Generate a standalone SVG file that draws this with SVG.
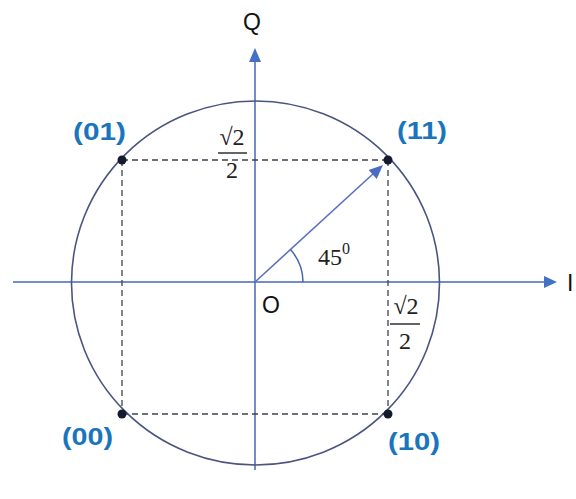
<svg xmlns="http://www.w3.org/2000/svg" width="576" height="499" viewBox="0 0 576 499">
<style>
.axis{stroke:#4667b5;stroke-width:1.5;fill:none}
.ahead{fill:#4470c4}
.circ{stroke:#4a5580;stroke-width:1.6;fill:none}
.dash{stroke:#3d4350;stroke-width:1.3;stroke-dasharray:6 4;fill:none}
.dot{fill:#141b2e}
.lbl{font-family:"Liberation Sans",Arial,sans-serif;font-weight:bold;font-size:24px;fill:#1a75bc}
.ax{font-family:"Liberation Sans",Arial,sans-serif;font-size:23px;fill:#111}
.math{font-family:"Liberation Serif","DejaVu Serif",serif;font-size:24px;fill:#222}
.bar{stroke:#222;stroke-width:1.4}
</style>
<rect width="576" height="499" fill="#fff"/>
<g id="axes">
<line class="axis" x1="13" y1="282" x2="547" y2="282"/>
<polygon class="ahead" points="557,282 544,276 544,288"/>
<line class="axis" x1="255" y1="470" x2="255" y2="60"/>
<polygon class="ahead" points="255,48 249,62 261,62"/>
<text class="ax" x="252" y="30" text-anchor="middle">Q</text>
<text class="ax" x="567" y="291">I</text>
<text class="ax" x="262" y="313" font-size="20">O</text>
</g>
<g id="circle">
<ellipse class="circ" cx="255.5" cy="283" rx="184" ry="182"/>
</g>
<g id="connectors">
<line class="dash" x1="122" y1="160" x2="388" y2="160"/>
<line class="dash" x1="122" y1="414" x2="388" y2="414"/>
<line class="dash" x1="122" y1="160" x2="122" y2="414"/>
<line class="dash" x1="388" y1="160" x2="388" y2="414"/>
<line x1="255" y1="282" x2="374" y2="173" stroke="#5a72c0" stroke-width="1.6"/>
<polygon points="383,165 376.7,178.9 368.6,170" fill="#4a6cc0"/>
<path d="M303,282 A48,48 0 0 0 290.4,249.6" stroke="#4667b5" stroke-width="1.5" fill="none"/>
</g>
<g id="p01">
<circle class="dot" cx="122" cy="160" r="4.5"/>
<text class="lbl" x="73" y="140" textLength="53" lengthAdjust="spacingAndGlyphs">(01)</text>
</g>
<g id="p11">
<circle class="dot" cx="388" cy="160" r="4.5"/>
<text class="lbl" x="397" y="139" textLength="50" lengthAdjust="spacingAndGlyphs">(11)</text>
</g>
<g id="p00">
<circle class="dot" cx="122" cy="414" r="4.5"/>
<text class="lbl" x="62" y="445" textLength="51" lengthAdjust="spacingAndGlyphs">(00)</text>
</g>
<g id="p10">
<circle class="dot" cx="388" cy="414" r="4.5"/>
<text class="lbl" x="388" y="450" textLength="52" lengthAdjust="spacingAndGlyphs">(10)</text>
</g>
<g id="frac-top">
<text class="math" x="232" y="145" text-anchor="middle">√2</text>
<line class="bar" x1="218" y1="153" x2="247" y2="153"/>
<text class="math" x="232" y="178" text-anchor="middle">2</text>
</g>
<g id="frac-right">
<text class="math" x="406" y="314" text-anchor="middle">√2</text>
<line class="bar" x1="390" y1="324" x2="420" y2="324"/>
<text class="math" x="405" y="349" text-anchor="middle">2</text>
</g>
<g id="angle">
<text class="math" x="318" y="265" font-size="26">45<tspan font-size="16" dy="-11">0</tspan></text>
</g>
</svg>
